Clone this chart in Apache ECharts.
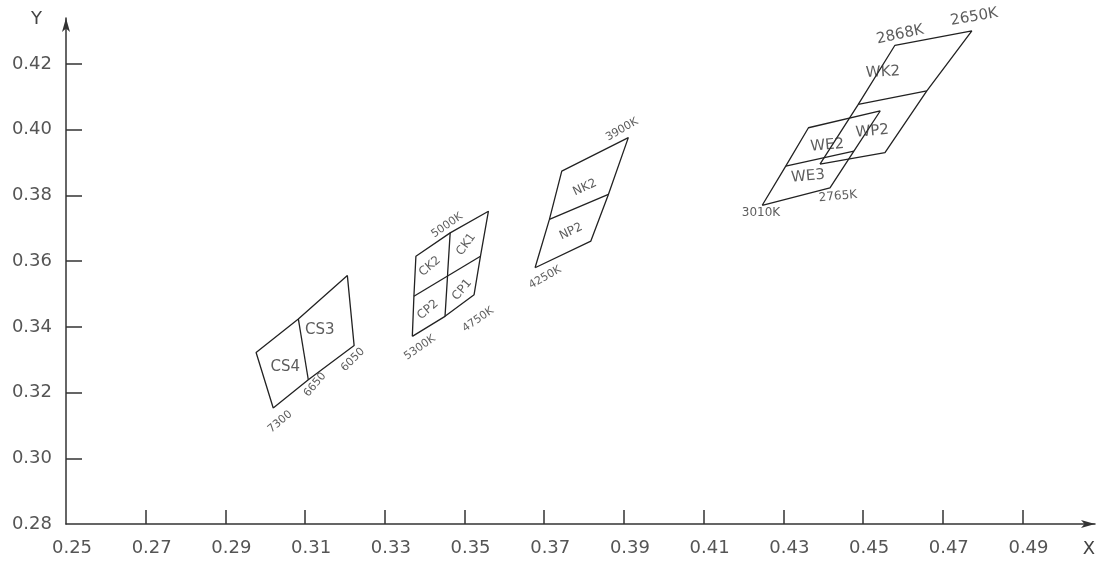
<!DOCTYPE html>
<html>
<head>
<meta charset="utf-8">
<script src="https://cdn.jsdelivr.net/npm/echarts@6/dist/echarts.min.js"></script>
<style>html,body{margin:0;padding:0;background:#fff}#c{width:1099px;height:563px}</style>
</head>
<body>
<div id="c"></div>
<script>
// tick labels
const xTicks = [0.25,0.27,0.29,0.31,0.33,0.35,0.37,0.39,0.41,0.43,0.45,0.47,0.49];
const yTicks = [0.28,0.30,0.32,0.34,0.36,0.38,0.40,0.42];

// quadrangle outlines (x, y chromaticity), closed
const csOutline = [[0.3020,0.3153],[0.2977,0.3322],[0.3083,0.3424],[0.3206,0.3556],[0.3223,0.3343],[0.3108,0.3239],[0.3020,0.3153]];
const csDivider = [[0.3083,0.3424],[0.3108,0.3239]];

const ckOutline = [[0.3369,0.3371],[0.3373,0.3493],[0.3378,0.3615],[0.3464,0.3686],[0.3560,0.3752],[0.3540,0.3615],[0.3524,0.3498],[0.3451,0.3432],[0.3369,0.3371]];
const ckDividerA = [[0.3464,0.3686],[0.3451,0.3432]];
const ckDividerB = [[0.3373,0.3493],[0.3540,0.3615]];

const nkOutline = [[0.3677,0.3580],[0.3713,0.3727],[0.3744,0.3874],[0.3911,0.3976],[0.3861,0.3803],[0.3817,0.3661],[0.3677,0.3580]];
const nkDivider = [[0.3713,0.3727],[0.3861,0.3803]];

const weOutline = [[0.4247,0.3770],[0.4306,0.3889],[0.4363,0.4006],[0.4543,0.4057],[0.4477,0.3935],[0.4417,0.3823],[0.4247,0.3770]];
const weDivider = [[0.4306,0.3889],[0.4477,0.3935]];

const wkOutline = [[0.4392,0.3895],[0.4488,0.4077],[0.4580,0.4257],[0.4773,0.4301],[0.4660,0.4118],[0.4555,0.3930],[0.4392,0.3895]];
const wkDivider = [[0.4488,0.4077],[0.4660,0.4118]];

// annotation texts and their anchor points
const labelNames = ['7300','6650','6050','CS4','CS3','5300K','4750K','5000K','CK2','CK1','CP2','CP1','NK2','NP2','4250K','3900K','WE2','WE3','WP2','WK2','3010K','2765K','2868K','2650K'];
const labelX = [0.3037,0.3125,0.3220,0.3050,0.3137,0.3388,0.3534,0.3456,0.3413,0.3504,0.3408,0.3494,0.3802,0.3767,0.3702,0.3895,0.4410,0.4362,0.4523,0.4550,0.4244,0.4437,0.4593,0.4779];
const labelY = [0.3111,0.3224,0.3300,0.3279,0.3391,0.3337,0.3422,0.3709,0.3584,0.3651,0.3452,0.3513,0.3824,0.3690,0.3550,0.4001,0.3952,0.3858,0.3995,0.4175,0.3748,0.3797,0.4289,0.4343];

// label styling (rotation degrees, font size)
const labelRot  = [40,50,45,0,0,35,35,35,40,55,40,50,25,25,30,30,5,5,5,3,0,5,12,10];
const labelSize = [11,11,11,15,15,11,11,11,12,12,12,12,12,12,11,11,15,15,15,15,12,12,15,15];

const lineColor = '#222';
function outline(name, data){
  return {type:'line', name, data, symbol:'none', clip:false, silent:true,
    lineStyle:{color:lineColor, width:1.3}, z:2};
}

const labelData = labelNames.map((n,i)=>({
  name:n, value:[labelX[i], labelY[i]],
  label:{rotate:labelRot[i], fontSize:labelSize[i]}
}));

const chart = echarts.init(document.getElementById('c'), null, {renderer:'canvas'});
chart.setOption({
  animation:false,
  backgroundColor:'#fff',
  grid:{left:66, right:4, top:18, bottom:39, containLabel:false},
  xAxis:{
    type:'value', min:0.25, max:0.5082,
    name:'X', nameLocation:'end', nameGap:-6,
    nameTextStyle:{fontFamily:'DejaVu Sans', fontSize:18, color:'#444', align:'center', verticalAlign:'top', padding:[16,0,0,0]},
    axisLine:{show:true, symbol:['none','arrow'], symbolSize:[6,14], lineStyle:{color:'#333', width:1.5}},
    axisTick:{show:true, inside:true, length:14, customValues:xTicks.slice(1), lineStyle:{color:'#333', width:1.5}},
    axisLabel:{customValues:xTicks, margin:15, fontFamily:'DejaVu Sans', fontSize:18, color:'#555',
      padding:[0,0,0,12], formatter:v=>v.toFixed(2), showMaxLabel:true},
    splitLine:{show:false}
  },
  yAxis:{
    type:'value', min:0.28, max:0.434,
    name:'Y', nameLocation:'end', nameGap:-1,
    nameTextStyle:{fontFamily:'DejaVu Sans', fontSize:18, color:'#444', align:'right', verticalAlign:'middle', padding:[0,24,0,0]},
    axisLine:{show:true, symbol:['none','arrow'], symbolSize:[6,14], lineStyle:{color:'#333', width:1.5}},
    axisTick:{show:true, inside:true, length:16, customValues:yTicks.slice(1), lineStyle:{color:'#333', width:1.5}},
    axisLabel:{customValues:yTicks, margin:14, fontFamily:'DejaVu Sans', fontSize:18, color:'#555',
      formatter:v=>v.toFixed(2)},
    splitLine:{show:false}
  },
  series:[
    outline('CS', csOutline), outline('CSd', csDivider),
    outline('CK', ckOutline), outline('CKa', ckDividerA), outline('CKb', ckDividerB),
    outline('NK', nkOutline), outline('NKd', nkDivider),
    outline('WE', weOutline), outline('WEd', weDivider),
    outline('WK', wkOutline), outline('WKd', wkDivider),
    {type:'scatter', data:labelData, symbolSize:0, silent:true, z:3, clip:false,
      label:{show:true, position:'inside', formatter:p=>p.name, color:'#333', fontFamily:'DejaVu Sans'}}
  ]
});
</script>
</body>
</html>
